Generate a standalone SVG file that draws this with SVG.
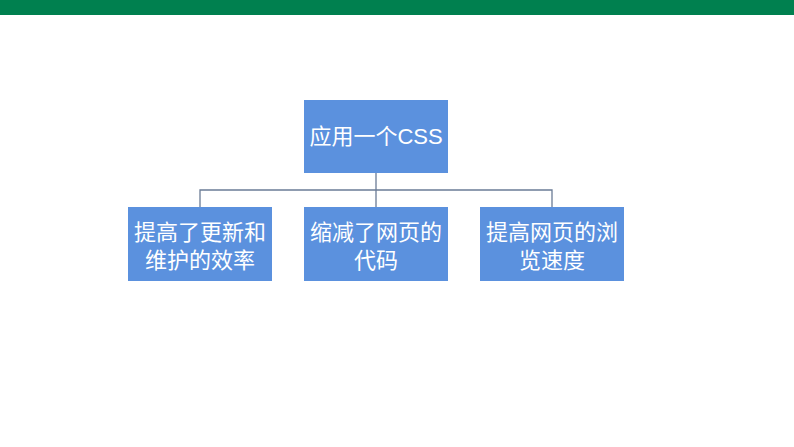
<svg xmlns="http://www.w3.org/2000/svg" width="794" height="447" viewBox="0 0 794 447">
<style>
.box{fill:#5b91de;}
.t{fill:#fff;font-family:"Liberation Sans","Noto Sans CJK SC",sans-serif;font-size:22px;text-anchor:middle;}
.c{stroke:#6b7c96;stroke-width:1.3;fill:none;}
</style>
<rect width="794" height="447" fill="#fff"/>
<rect x="0" y="0" width="794" height="15" fill="#00804f"/>
<g id="connectors">
<path class="c" d="M376 173V190M200 207V190H552V207M376 190V207"/>
</g>
<g id="root"><rect class="box" x="304" y="100" width="144" height="73"/><text class="t" x="376" y="144">应用一个CSS</text></g>
<g id="n1"><rect class="box" x="128" y="207" width="144" height="74"/><text class="t" x="200" y="240">提高了更新和</text><text class="t" x="200" y="268">维护的效率</text></g>
<g id="n2"><rect class="box" x="304" y="207" width="144" height="74"/><text class="t" x="376" y="240">缩减了网页的</text><text class="t" x="376" y="268">代码</text></g>
<g id="n3"><rect class="box" x="480" y="207" width="144" height="74"/><text class="t" x="552" y="240">提高网页的浏</text><text class="t" x="552" y="268">览速度</text></g>
</svg>
